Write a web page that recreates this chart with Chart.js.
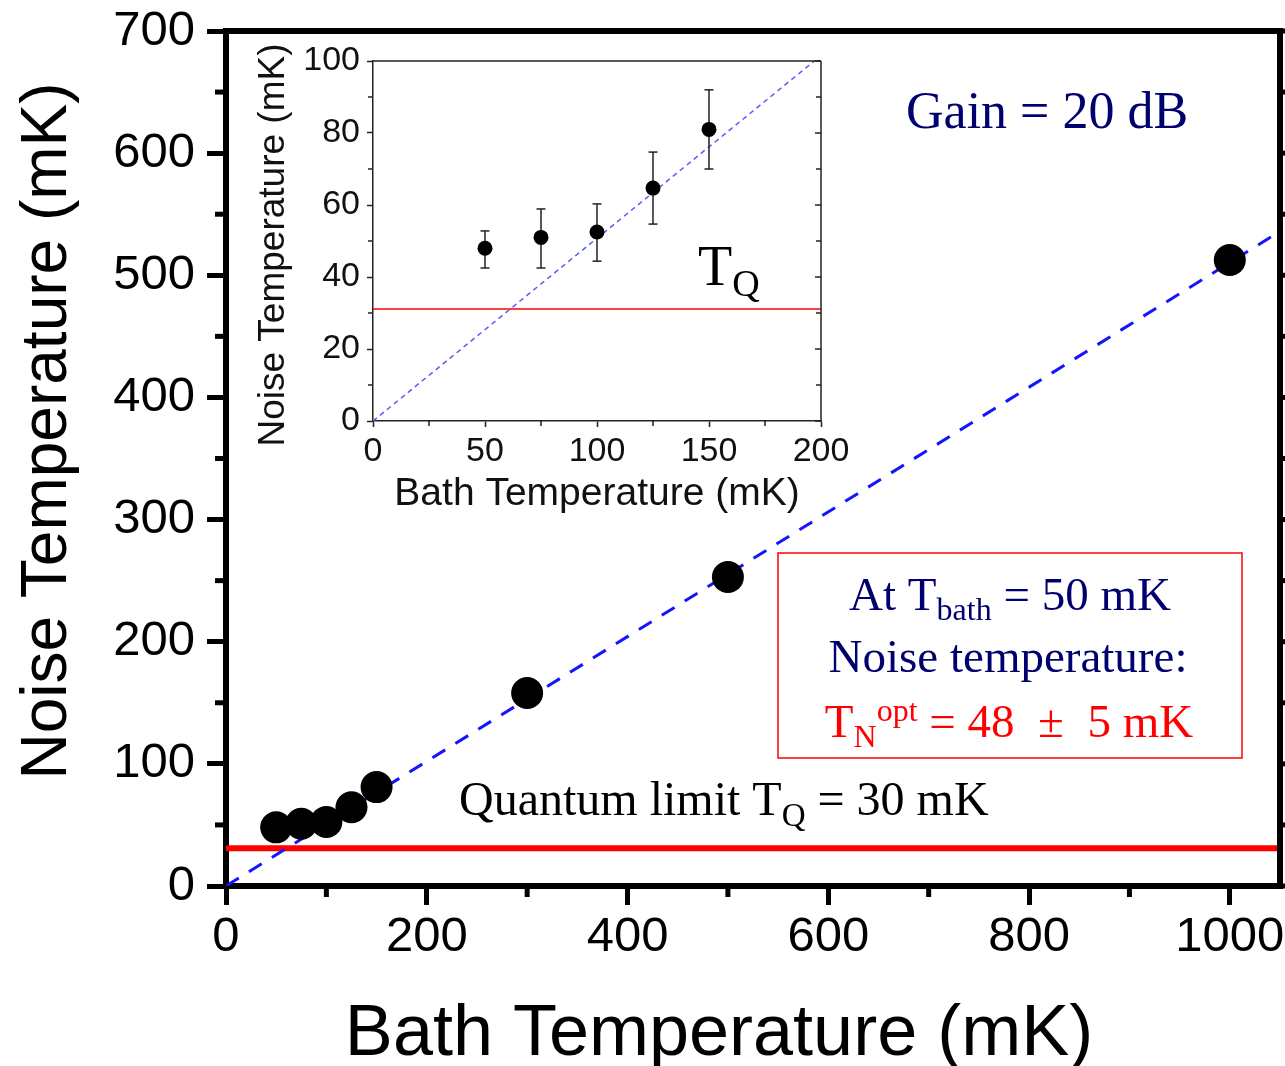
<!DOCTYPE html>
<html>
<head>
<meta charset="utf-8">
<title>Noise temperature vs bath temperature</title>
<script src="https://cdn.jsdelivr.net/npm/chart.js@4.4.1/dist/chart.umd.min.js"></script>
<style>
  html, body { margin: 0; padding: 0; background: #fff; }
  #wrap { position: relative; width: 1285px; height: 1066px; }
  #main { position: absolute; left: 0; top: 0; }
  #inset { position: absolute; left: 240px; top: 30px; }
</style>
</head>
<body>
<div id="wrap">
  <canvas id="main" width="1285" height="1066"></canvas>
  <canvas id="inset" width="620" height="490"></canvas>
</div>
<script>
// Main panel: measured noise temperature vs bath temperature (mK)
const bathTemps = [50, 75, 100, 125, 150, 300, 500, 1000];
const noiseTemps = [48, 51, 52.5, 64.5, 81, 158, 253, 512.5];

// Inset: low temperature points with error bars
const insetBath = [50, 75, 100, 125, 150];
const insetNoise = [48, 51, 52.5, 64.7, 81];
const insetLow = [42.5, 42.5, 44.4, 54.7, 70];
const insetHigh = [52.8, 58.9, 60.3, 74.7, 92];

// Reference lines (linear fit, quantum limit)
const fitX = [0, 1050];
const fitY = [0, 536];
const limitX = [0, 1050];
const limitY = [31, 31];
const insetFitX = [0, 197];
const insetFitY = [0, 100];
const insetLimitX = [0, 200];
const insetLimitY = [31.1, 31.1];

// Ticks
const mainXTicks = [0, 200, 400, 600, 800, 1000];
const mainXMinor = [100, 300, 500, 700, 900];
const mainYTicks = [0, 100, 200, 300, 400, 500, 600, 700];
const mainYMinor = [50, 150, 250, 350, 450, 550, 650];
const insetXTicks = [0, 50, 100, 150, 200];
const insetXMinor = [25, 75, 125, 175];
const insetYTicks = [0, 20, 40, 60, 80, 100];
const insetYMinor = [10, 30, 50, 70, 90];

const SANS = 'Liberation Sans, Arial, sans-serif';
const SERIF = 'Liberation Serif, Times New Roman, serif';
const NAVY = '#00006e';

const pts = (xs, ys) => xs.map((x, i) => ({ x: x, y: ys[i] }));

// draw a run of text pieces (sub/superscripts) starting at x or centred on x
function richText(ctx, parts, x, y, align) {
  let total = 0;
  parts.forEach(p => {
    ctx.font = p.size + 'px ' + SERIF;
    p.w = ctx.measureText(p.t).width;
    total += p.w;
  });
  let cx = align === 'center' ? x - total / 2 : x;
  ctx.textAlign = 'left';
  ctx.textBaseline = 'alphabetic';
  parts.forEach(p => {
    ctx.font = p.size + 'px ' + SERIF;
    ctx.fillStyle = p.color;
    ctx.fillText(p.t, cx, y + (p.dy || 0));
    cx += p.w;
  });
}

function line(ctx, x1, y1, x2, y2) {
  ctx.beginPath();
  ctx.moveTo(x1, y1);
  ctx.lineTo(x2, y2);
  ctx.stroke();
}

// frame, minor ticks and texts of the main panel
const mainDecor = {
  id: 'mainDecor',
  afterDraw(chart) {
    const ctx = chart.ctx;
    const a = chart.chartArea;
    const xs = chart.scales.x, ys = chart.scales.y;
    ctx.save();
    ctx.strokeStyle = '#000';
    ctx.lineWidth = 5;
    mainXMinor.forEach(v => {
      const px = xs.getPixelForValue(v);
      line(ctx, px, a.bottom, px, a.bottom + 11);
    });
    mainYMinor.forEach(v => {
      const py = ys.getPixelForValue(v);
      line(ctx, a.left, py, a.left - 11, py);
      line(ctx, a.right, py, a.right + 11, py);
    });
    mainYTicks.forEach(v => {
      const py = ys.getPixelForValue(v);
      line(ctx, a.right, py, a.right + 19, py);
    });
    ctx.lineWidth = 6;
    line(ctx, a.left - 3, a.top, a.right + 3, a.top);
    line(ctx, a.right, a.top - 3, a.right, a.bottom + 3);

    // axis titles
    ctx.fillStyle = '#000';
    ctx.font = '64px ' + SANS;
    ctx.textAlign = 'center';
    ctx.textBaseline = 'alphabetic';
    ctx.save();
    ctx.translate(66, 431);
    ctx.rotate(-Math.PI / 2);
    ctx.fillText('Noise Temperature (mK)', 0, 0);
    ctx.restore();
    ctx.font = '72px ' + SANS;
    ctx.fillText('Bath Temperature (mK)', 719, 1055);

    // annotations
    richText(ctx, [{ t: 'Gain = 20 dB', size: 52, color: NAVY }], 906, 128, 'left');

    ctx.strokeStyle = '#ff0000';
    ctx.lineWidth = 1.5;
    ctx.strokeRect(778, 553, 464, 205);

    richText(ctx, [
      { t: 'At T', size: 47, color: NAVY },
      { t: 'bath', size: 32, dy: 10, color: NAVY },
      { t: ' = 50 mK', size: 47, color: NAVY }
    ], 1010, 610, 'center');
    richText(ctx, [{ t: 'Noise temperature:', size: 47, color: NAVY }], 1008, 672, 'center');
    richText(ctx, [
      { t: 'T', size: 47, color: '#ff0000' },
      { t: 'N', size: 32, dy: 10, color: '#ff0000' },
      { t: 'opt', size: 32, dy: -16, color: '#ff0000' },
      { t: ' = 48  \u00b1  5 mK', size: 47, color: '#ff0000' }
    ], 1009, 737, 'center');

    richText(ctx, [
      { t: 'Quantum limit T', size: 48, color: '#000' },
      { t: 'Q', size: 33, dy: 11, color: '#000' },
      { t: ' = 30 mK', size: 48, color: '#000' }
    ], 459, 815, 'left');
    ctx.restore();
  }
};

const mainChart = new Chart(document.getElementById('main'), {
  type: 'scatter',
  data: {
    datasets: [
      {
        label: 'Noise temperature',
        data: pts(bathTemps, noiseTemps),
        pointRadius: 16,
        backgroundColor: '#000',
        borderColor: '#000',
        borderWidth: 0
      },
      {
        label: 'Linear',
        data: pts(fitX, fitY),
        showLine: true,
        pointRadius: 0,
        borderColor: '#1414ff',
        borderWidth: 3,
        borderDash: [15, 12]
      },
      {
        label: 'Quantum limit',
        data: pts(limitX, limitY),
        showLine: true,
        pointRadius: 0,
        borderColor: '#ff0000',
        borderWidth: 6
      }
    ]
  },
  options: {
    responsive: false,
    animation: false,
    events: [],
    layout: { autoPadding: false, padding: { left: 0, top: 31, right: 5, bottom: 0 } },
    plugins: { legend: { display: false }, tooltip: { enabled: false } },
    scales: {
      x: {
        type: 'linear',
        min: 0,
        max: 1050,
        afterBuildTicks: s => { s.ticks = mainXTicks.map(v => ({ value: v })); },
        afterFit: s => { s.height = 180; s.paddingLeft = 0; s.paddingRight = 0; },
        ticks: {
          color: '#000',
          font: { family: SANS, size: 49 },
          padding: 3,
          maxRotation: 0,
          autoSkip: false,
          callback: v => String(v)
        },
        grid: { drawOnChartArea: false, tickLength: 19, tickWidth: 5, tickColor: '#000' },
        border: { color: '#000', width: 6 }
      },
      y: {
        type: 'linear',
        min: 0,
        max: 700,
        afterBuildTicks: s => { s.ticks = mainYTicks.map(v => ({ value: v })); },
        afterFit: s => { s.width = 226; s.paddingTop = 0; s.paddingBottom = 0; },
        ticks: {
          color: '#000',
          font: { family: SANS, size: 49 },
          padding: 12,
          autoSkip: false,
          callback: v => String(v)
        },
        grid: { drawOnChartArea: false, tickLength: 19, tickWidth: 5, tickColor: '#000' },
        border: { color: '#000', width: 6 }
      }
    }
  },
  plugins: [mainDecor]
});

// frame, minor ticks and texts of the inset
const insetDecor = {
  id: 'insetDecor',
  afterDraw(chart) {
    const ctx = chart.ctx;
    const a = chart.chartArea;
    const xs = chart.scales.x, ys = chart.scales.y;
    ctx.save();
    ctx.strokeStyle = '#222';
    ctx.lineWidth = 1.5;
    insetXMinor.forEach(v => {
      const px = xs.getPixelForValue(v);
      line(ctx, px, a.bottom, px, a.bottom + 5);
    });
    insetYMinor.forEach(v => {
      const py = ys.getPixelForValue(v);
      line(ctx, a.left, py, a.left - 5, py);
      line(ctx, a.right, py, a.right - 5, py);
    });
    insetYTicks.forEach(v => {
      const py = ys.getPixelForValue(v);
      line(ctx, a.right, py, a.right - 6, py);
    });
    line(ctx, a.left, a.top, a.right, a.top);
    line(ctx, a.right, a.top, a.right, a.bottom);

    ctx.fillStyle = '#111';
    ctx.textAlign = 'center';
    ctx.textBaseline = 'alphabetic';
    ctx.font = '37px ' + SANS;
    ctx.save();
    ctx.translate(44, 215);
    ctx.rotate(-Math.PI / 2);
    ctx.fillText('Noise Temperature (mK)', 0, 0);
    ctx.restore();
    ctx.font = '39px ' + SANS;
    ctx.fillText('Bath Temperature (mK)', 357, 475);

    richText(ctx, [
      { t: 'T', size: 56, color: '#000' },
      { t: 'Q', size: 38, dy: 11, color: '#000' }
    ], 458, 255, 'left');
    ctx.restore();
  }
};

const stemData = [];
insetBath.forEach((x, i) => {
  stemData.push({ x: x, y: insetLow[i] }, { x: x, y: insetHigh[i] }, { x: x, y: null });
});

const insetChart = new Chart(document.getElementById('inset'), {
  type: 'scatter',
  data: {
    datasets: [
      {
        label: 'Noise temperature',
        data: pts(insetBath, insetNoise),
        pointRadius: 7.5,
        backgroundColor: '#000',
        borderColor: '#000',
        borderWidth: 0
      },
      {
        label: 'Error caps',
        data: pts(insetBath, insetLow).concat(pts(insetBath, insetHigh)),
        pointStyle: 'line',
        pointRadius: 4.5,
        borderColor: '#222',
        borderWidth: 1.5
      },
      {
        label: 'Error bars',
        data: stemData,
        showLine: true,
        spanGaps: false,
        pointRadius: 0,
        borderColor: '#222',
        borderWidth: 1.5
      },
      {
        label: 'Linear',
        data: pts(insetFitX, insetFitY),
        showLine: true,
        pointRadius: 0,
        borderColor: '#5a5aff',
        borderWidth: 1.5,
        borderDash: [5, 4]
      },
      {
        label: 'Quantum limit',
        data: pts(insetLimitX, insetLimitY),
        showLine: true,
        pointRadius: 0,
        borderColor: '#ff0000',
        borderWidth: 1.5
      }
    ]
  },
  options: {
    responsive: false,
    animation: false,
    events: [],
    layout: { autoPadding: false, padding: { left: 0, top: 31, right: 39, bottom: 0 } },
    plugins: { legend: { display: false }, tooltip: { enabled: false } },
    scales: {
      x: {
        type: 'linear',
        min: 0,
        max: 200,
        afterBuildTicks: s => { s.ticks = insetXTicks.map(v => ({ value: v })); },
        afterFit: s => { s.height = 99; s.paddingLeft = 0; s.paddingRight = 0; },
        ticks: {
          color: '#111',
          font: { family: SANS, size: 34 },
          padding: 4,
          maxRotation: 0,
          autoSkip: false,
          callback: v => String(v)
        },
        grid: { drawOnChartArea: false, tickLength: 6, tickWidth: 1.5, tickColor: '#222' },
        border: { color: '#222', width: 1.5 }
      },
      y: {
        type: 'linear',
        min: 0,
        max: 100,
        afterBuildTicks: s => { s.ticks = insetYTicks.map(v => ({ value: v })); },
        afterFit: s => { s.width = 133; s.paddingTop = 0; s.paddingBottom = 0; },
        ticks: {
          color: '#111',
          font: { family: SANS, size: 34 },
          padding: 7,
          autoSkip: false,
          callback: v => String(v)
        },
        grid: { drawOnChartArea: false, tickLength: 6, tickWidth: 1.5, tickColor: '#222' },
        border: { color: '#222', width: 1.5 }
      }
    }
  },
  plugins: [insetDecor]
});
</script>
</body>
</html>
